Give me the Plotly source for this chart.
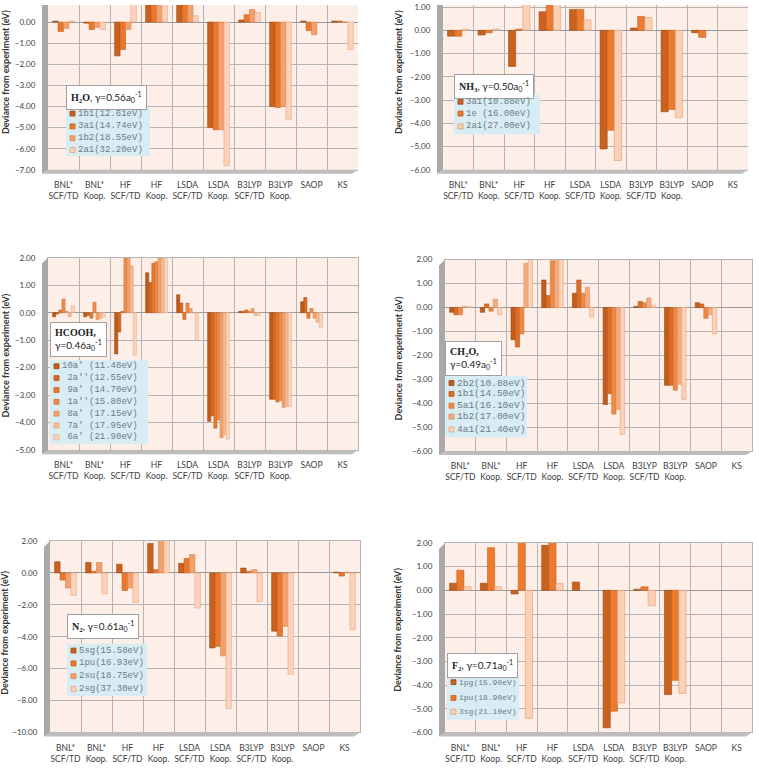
import plotly.graph_objects as go

W, H = 759, 775

categories = ["BNL*<br>SCF/TD", "BNL*<br>Koop.", "HF<br>SCF/TD", "HF<br>Koop.", "LSDA<br>SCF/TD",
              "LSDA<br>Koop.", "B3LYP<br>SCF/TD", "B3LYP<br>Koop.", "SAOP", "KS"]

# ---- H2O ----
h2o_labels = ["1b1(12.61eV)", "3a1(14.74eV)", "1b2(18.55eV)", "2a1(32.20eV)"]
h2o_values = [
    [0.05, -0.05, -1.6, 1.5, 1.0, -5.0, 0.1, -4.0, 0.05, 0.05],
    [-0.45, -0.35, -1.3, 1.9, 1.0, -5.1, 0.35, -4.05, -0.4, 0.05],
    [-0.3, -0.25, -0.35, 2.0, 1.0, -5.1, 0.6, -4.0, -0.6, 0.0],
    [0.05, -0.35, 1.3, 2.0, 0.3, -6.8, 0.45, -4.6, None, -1.3],
]
# ---- NH3 ----
nh3_labels = ["3a1(10.88eV)", "1e\u00a0(16.00eV)", "2a1(27.00eV)"]
nh3_values = [
    [-0.25, -0.2, -1.55, 0.8, 0.9, -5.1, 0.1, -3.5, -0.1, None],
    [-0.25, -0.1, 0.05, 1.3, 0.9, -4.3, 0.6, -3.4, -0.3, None],
    [0.05, 0.05, 1.5, 1.3, 0.45, -5.6, 0.55, -3.75, None, None],
]
# ---- HCOOH ----
hcooh_labels = ["10a'\u00a0(11.48eV)", "\u00a02a''(12.55eV)", "\u00a09a'\u00a0(14.70eV)",
                "\u00a01a''(15.80eV)", "\u00a08a'\u00a0(17.15eV)", "\u00a07a'\u00a0(17.95eV)",
                "\u00a06a'\u00a0(21.90eV)"]
hcooh_values = [
    [-0.15, -0.15, -1.5, 1.45, 0.65, -3.95, 0.05, -3.15, 0.4, None],
    [-0.05, -0.1, -0.7, 1.1, 0.35, -3.75, 0.05, -3.15, 0.55, None],
    [0.1, -0.2, 0.05, 1.8, -0.25, -4.2, 0.1, -3.25, -0.2, None],
    [0.5, 0.38, 2.0, 1.85, 0.35, -3.9, 0.05, -3.2, 0.15, None],
    [0.05, -0.25, 2.0, 2.0, 0.15, -4.55, 0.15, -3.45, -0.2, None],
    [-0.15, -0.2, 1.7, 2.0, 0.0, -4.45, -0.1, -3.4, -0.35, None],
    [0.25, -0.15, -1.55, 2.0, -1.0, -4.6, -0.1, -3.4, -0.55, None],
]
# ---- CH2O ----
ch2o_labels = ["2b2(10.88eV)", "1b1(14.50eV)", "5a1(16.10eV)", "1b2(17.00eV)", "4a1(21.40eV)"]
ch2o_values = [
    [-0.2, -0.2, -1.35, 1.15, 0.6, -4.05, 0.05, -3.25, 0.2, None],
    [-0.3, 0.15, -1.65, 0.5, 1.15, -3.6, 0.25, -3.25, 0.15, None],
    [-0.3, -0.15, -1.1, 1.95, 0.6, -4.45, 0.2, -3.45, -0.45, None],
    [0.05, 0.35, 1.85, 2.0, 0.85, -4.25, 0.4, -3.2, -0.3, None],
    [0.05, -0.3, 2.0, 2.0, -0.4, -5.3, 0.1, -3.85, -1.1, None],
]
# ---- N2 ----
n2_labels = ["5sg(15.58eV)", "1pu(16.93eV)", "2su(18.75eV)", "2sg(37.30eV)"]
n2_values = [
    [0.7, 0.65, 0.55, 1.85, 0.6, -4.7, 0.3, -3.65, None, 0.05],
    [-0.45, 0.1, -1.1, 0.2, 0.9, -4.6, 0.1, -3.95, None, -0.2],
    [-0.95, 0.65, -0.95, 2.1, 1.15, -5.2, 0.2, -3.35, None, 0.05],
    [-1.4, -1.3, -1.85, 2.1, -2.2, -8.5, -1.8, -6.35, None, -3.55],
]
# ---- F2 ----
f2_labels = ["1pg(15.90eV)", "1pu(18.90eV)", "3sg(21.10eV)"]
f2_values = [
    [0.3, 0.3, -0.15, 1.9, 0.35, -5.8, 0.05, -4.4, None, None],
    [0.85, 1.8, 2.05, 2.05, None, -5.1, 0.15, -3.8, None, None],
    [0.15, 0.15, -5.4, 0.3, None, -4.75, -0.65, -4.35, None, None],
]

palettes = {
    3: ["#C9611F", "#EC7B30", "#FAD0B6"],
    4: ["#C9611F", "#E9772C", "#F3A06C", "#FBD3BC"],
    5: ["#C45C1B", "#DE6D25", "#EE8A48", "#F4AC7E", "#FBD2BA"],
    7: ["#C25A18", "#D76922", "#EA7A2F", "#EF8C4A", "#F3A26C", "#F7BB93", "#FBD4BE"],
}
edges = {
    3: ["#9E4A14", "#C2601E", "#E39A72"],
    4: ["#9E4A14", "#C2601E", "#D98550", "#E6A582"],
    5: ["#9A4812", "#B5581B", "#CF7236", "#DD8E5E", "#E6A582"],
    7: ["#994711", "#B0551A", "#C46424", "#CF733A", "#D98A58", "#DFA07A", "#E6AE8E"],
}

SERIF = "font-family:Liberation Serif"
panels = [
    dict(values=h2o_values, labels=h2o_labels, x=(48, 358), y=(0, 167), rng=[-7, 0.81], dtick=1,
         title=f"<b><span style='{SERIF}'>H<sub>2</sub>O</span></b>, γ=0.56a<sub>0</sub><sup>-1</sup>",
         tbox=(66, 81), leg=(66, 103, 150, 153), legy=[110, 123, 135, 147], legfs=9, ytitle=(5, 68)),
    dict(values=nh3_values, labels=nh3_labels, x=(443, 748), y=(0, 167), rng=[-6, 1.09], dtick=1,
         title=f"<b><span style='{SERIF}'>NH<sub>3</sub></span></b>, γ=0.50a<sub>0</sub><sup>-1</sup>",
         tbox=(454, 70), leg=(454, 91, 540, 131), legy=[98, 110, 123], legfs=9, ytitle=(398, 68)),
    dict(values=hcooh_values, labels=hcooh_labels, x=(48, 358), y=(256, 451), rng=[-5, 2], dtick=1,
         title=f"<b><span style='{SERIF}'>HCOOH,</span></b><br>γ=0.46a<sub>0</sub><sup>-1</sup>",
         tbox=(50, 321), leg=(50, 360, 148, 445), legy=[366, 378, 390, 402, 414, 426, 438], legfs=9, ytitle=(5, 355)),
    dict(values=ch2o_values, labels=ch2o_labels, x=(445, 752), y=(258, 452), rng=[-6, 2], dtick=1,
         title=f"<b><span style='{SERIF}'>CH<sub>2</sub>O,</span></b><br>γ=0.49a<sub>0</sub><sup>-1</sup>",
         tbox=(445, 340), leg=(445, 376, 527, 438), legy=[383, 394, 406, 417, 430], legfs=9.5, ytitle=(398, 358)),
    dict(values=n2_values, labels=n2_labels, x=(50, 360), y=(543, 737), rng=[-10, 2], dtick=2,
         title=f"<b><span style='{SERIF}'>N<sub>2</sub></span></b>, γ=0.61a<sub>0</sub><sup>-1</sup>",
         tbox=(67, 617), leg=(67, 647, 147, 700), legy=[654, 667, 680, 693], legfs=9, ytitle=(5, 636)),
    dict(values=f2_values, labels=f2_labels, x=(445, 752), y=(545, 737), rng=[-6, 2], dtick=1,
         title=f"<b><span style='{SERIF}'>F<sub>2</sub></span></b>, γ=0.71a<sub>0</sub><sup>-1</sup>",
         tbox=(447, 656), leg=(447, 679, 519, 724), legy=[686, 702, 716], legfs=8, ytitle=(398, 633)),
]


def px(xp):
    return xp / W


def py(yp):
    return 1 - yp / H


fig = go.Figure()
shapes = []
annotations = []
GRID = "#B4B4B4"
WALL = "#A9A9A9"
TXT = "#404040"

for i, p in enumerate(panels):
    n = len(p["values"])
    ax = "" if i == 0 else str(i + 1)
    for s in range(n):
        fig.add_trace(go.Bar(
            x=categories, y=p["values"][s], xaxis="x" + ax, yaxis="y" + ax,
            marker=dict(color=palettes[n][s], line=dict(color=edges[n][s], width=0.6)),
            showlegend=False, name=p["labels"][s],
        ))
    x0, x1 = p["x"]
    y0, y1 = p["y"]
    top_cut = y0 == 0
    fig.layout["xaxis" + ax] = dict(
        domain=[px(x0), px(x1)], anchor="y" + ax, type="category", tickson="boundaries",
        showgrid=True, gridcolor=GRID, gridwidth=1, showline=True, linecolor=GRID,
        mirror=not top_cut, ticks="", ticklabelstandoff=7,
        tickfont=dict(family="Lato", size=8.5, color=TXT), tickangle=0,
    )
    fig.layout["yaxis" + ax] = dict(
        domain=[py(y1), py(y0)], anchor="x" + ax, range=p["rng"], dtick=p["dtick"], tick0=0,
        tickformat=".2f", showgrid=True, gridcolor=GRID, gridwidth=1,
        showline=True, linecolor=GRID, mirror=not top_cut,
        zeroline=True, zerolinecolor="#9A9A9A", zerolinewidth=1,
        ticks="outside", ticklen=10, tickcolor="rgba(0,0,0,0)",
        tickfont=dict(family="Lato", size=8, color=TXT),
    )
    # 3D wall (left) and floor (bottom)
    d = 6
    shapes.append(dict(type="path", xref="paper", yref="paper", layer="above",
                       path=f"M {px(x0-d)},{py(y0+d if not top_cut else 0)} L {px(x0)},{py(y0)} L {px(x0)},{py(y1)} L {px(x0-d)},{py(y1+4)} Z",
                       fillcolor=WALL, line=dict(width=0)))
    shapes.append(dict(type="path", xref="paper", yref="paper", layer="above",
                       path=f"M {px(x0-d)},{py(y1+4)} L {px(x0)},{py(y1)} L {px(x1)},{py(y1)} L {px(x1-d)},{py(y1+4)} Z",
                       fillcolor="#BDBDBD", line=dict(width=0)))
    # y-axis title
    annotations.append(dict(xref="paper", yref="paper", x=px(p["ytitle"][0]), y=py(p["ytitle"][1]),
                            text="<b>Deviance from experiment (eV)</b>", textangle=-90, showarrow=False,
                            font=dict(family="Lato", size=9, color="#333333"),
                            xanchor="center", yanchor="middle"))
    # title box
    annotations.append(dict(xref="paper", yref="paper", x=px(p["tbox"][0]), y=py(p["tbox"][1]),
                            text=p["title"], showarrow=False, align="left",
                            font=dict(family="Lato", size=10, color="#222222"),
                            xanchor="left", yanchor="top", bgcolor="white",
                            bordercolor="#A0A0A0", borderwidth=1, borderpad=4))
    # legend box
    lx0, ly0, lx1, ly1 = p["leg"]
    shapes.append(dict(type="rect", xref="paper", yref="paper", layer="above",
                       x0=px(lx0), x1=px(lx1), y0=py(ly1), y1=py(ly0),
                       fillcolor="#D7EDF3", line=dict(width=0)))
    for s in range(n):
        yy = p["legy"][s]
        shapes.append(dict(type="rect", xref="paper", yref="paper", layer="above",
                           x0=px(lx0 + 4), x1=px(lx0 + 9), y0=py(yy + 2.5), y1=py(yy - 2.5),
                           fillcolor=palettes[n][s], line=dict(color=edges[n][s], width=0.8)))
        annotations.append(dict(xref="paper", yref="paper", x=px(lx0 + 10), y=py(yy),
                                text=p["labels"][s],
                                showarrow=False, xanchor="left", yanchor="middle",
                                font=dict(family="Liberation Mono", size=p["legfs"], color="#6C7B86")))

fig.update_layout(
    width=W, height=H, margin=dict(l=0, r=0, t=0, b=0),
    paper_bgcolor="white", plot_bgcolor="#FDEEE7",
    barmode="group", bargap=0.3, bargroupgap=0,
    shapes=shapes, annotations=annotations,
)
fig.write_html("out.html")
